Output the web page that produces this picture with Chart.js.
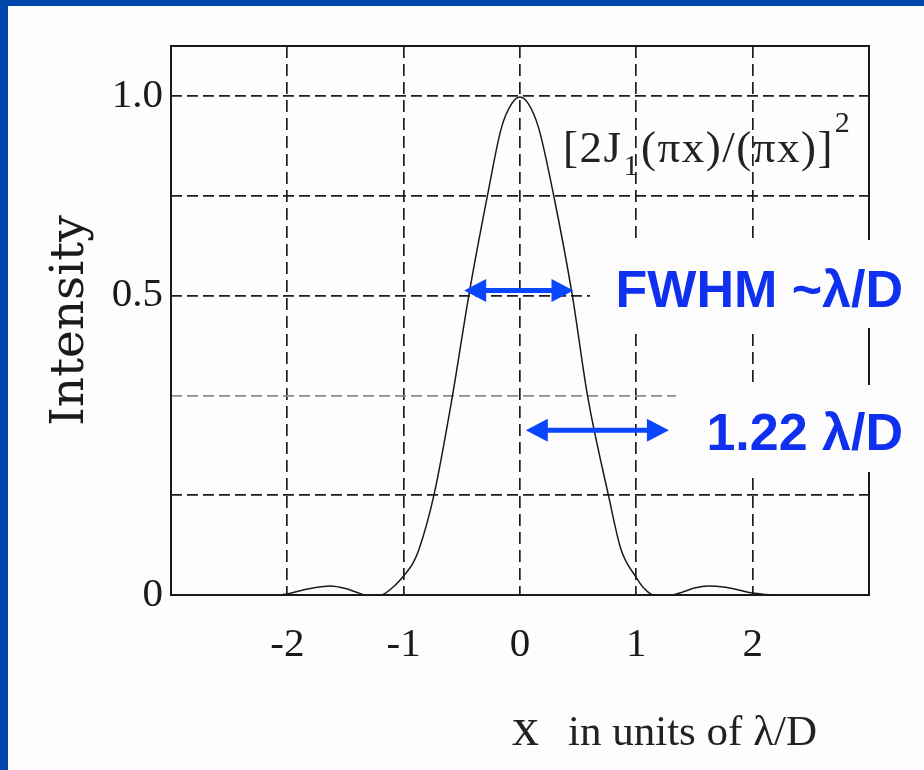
<!DOCTYPE html>
<html>
<head>
<meta charset="utf-8">
<script src="https://cdn.jsdelivr.net/npm/chart.js@4.4.1/dist/chart.umd.min.js"></script>
<style>
html, body { margin: 0; padding: 0; background: #0047ab; }
#box { position: absolute; left: 0; top: 0; width: 924px; height: 770px; }
</style>
</head>
<body>
<div id="box"><canvas id="airy" width="924" height="770"></canvas></div>
<script>
// curve (x in units of lambda/D, intensity)
var xValues = [-3.0, -2.6, -2.25, -2.1, -2.0, -1.9, -1.78, -1.63, -1.5, -1.4, -1.32, -1.2,
               -1.09, -0.98, -0.92, -0.87, -0.74, -0.58, -0.44, -0.28, -0.16, -0.07, 0,
               0.07, 0.16, 0.29, 0.45, 0.58, 0.76, 0.87, 1.0, 1.06, 1.15, 1.3, 1.4, 1.5,
               1.62, 1.75, 1.88, 2.0, 2.2, 2.6, 3.0];
var intensity = [0, 0, 0, 0, 0.002, 0.008, 0.014, 0.018, 0.013, 0.005, 0, 0,
                 0.016, 0.044, 0.064, 0.09, 0.2, 0.4, 0.6, 0.8, 0.936, 0.985, 0.998,
                 0.985, 0.936, 0.8, 0.6, 0.4, 0.2, 0.09, 0.035, 0.015, 0, 0, 0.006, 0.014,
                 0.018, 0.016, 0.01, 0.004, 0, 0, 0];

var xTicks = [-2, -1, 0, 1, 2];
var yTickLabels = ['0', '', '', '0.5', '', '1.0', ''];

// arrows: [from, to] along x, at a given intensity level
var fwhmArrowX = [-0.48, 0.46];
var fwhmArrowY = 0.61;
var radiusArrowX = [0.05, 1.28];
var radiusArrowY = 0.33;

var points = xValues.map(function(x, i) { return {x: x, y: intensity[i]}; });

function arrow(ctx, x1, x2, y) {
    var head = 22, half = 11.5;
    ctx.save();
    ctx.strokeStyle = '#0a46ff';
    ctx.fillStyle = '#0a46ff';
    ctx.lineWidth = 5;
    ctx.beginPath();
    ctx.moveTo(x1 + head - 2, y);
    ctx.lineTo(x2 - head + 2, y);
    ctx.stroke();
    ctx.beginPath();
    ctx.moveTo(x1, y); ctx.lineTo(x1 + head, y - half); ctx.lineTo(x1 + head, y + half);
    ctx.closePath(); ctx.fill();
    ctx.beginPath();
    ctx.moveTo(x2, y); ctx.lineTo(x2 - head, y - half); ctx.lineTo(x2 - head, y + half);
    ctx.closePath(); ctx.fill();
    ctx.restore();
}

// pieces of [2J1(pi x)/(pi x)]^2 : text, font, baseline shift, gap after
function formula(ctx, x, y) {
    var parts = [
        ['[2J', '45px "Liberation Serif"', 0, 1],
        ['1', '30px "Liberation Serif"', 13, 1],
        ['(\u03c0x)/(\u03c0x)]', '45px "Liberation Serif"', 0, 1],
        ['2', '30px "Liberation Serif"', -30, 0]
    ];
    ctx.save();
    ctx.fillStyle = '#222';
    ctx.textBaseline = 'alphabetic';
    ctx.textAlign = 'left';
    ctx.letterSpacing = '1.5px';
    parts.forEach(function(p) {
        ctx.font = p[1];
        ctx.fillText(p[0], x, y + p[2]);
        x += ctx.measureText(p[0]).width + p[3];
    });
    ctx.restore();
}

var extras = {
    id: 'extras',
    beforeDraw: function(chart) {
        var ctx = chart.ctx;
        ctx.save();
        ctx.fillStyle = '#0047ab';
        ctx.fillRect(0, 0, 924, 770);
        ctx.fillStyle = '#fdfdfd';
        ctx.fillRect(8, 6, 916, 764);
        ctx.restore();
    },
    afterDraw: function(chart) {
        var ctx = chart.ctx, a = chart.chartArea;
        var sx = chart.scales.x, sy = chart.scales.y;

        ctx.save();
        ctx.strokeStyle = '#1a1a1a';
        ctx.lineWidth = 2;
        ctx.strokeRect(a.left, a.top, a.right - a.left, a.bottom - a.top);
        ctx.restore();

        formula(ctx, 563, 162);

        // white label boxes
        ctx.save();
        ctx.fillStyle = '#fdfdfd';
        ctx.fillRect(590, 240, 334, 88);
        ctx.fillRect(676, 385, 248, 87);
        ctx.fillStyle = '#1030f0';
        ctx.font = 'bold 52px "Liberation Sans"';
        ctx.textAlign = 'right';
        ctx.textBaseline = 'alphabetic';
        ctx.fillText('FWHM ~\u03bb/D', 903, 307);
        ctx.fillText('1.22 \u03bb/D', 903, 450);
        ctx.restore();

        arrow(ctx, sx.getPixelForValue(fwhmArrowX[0]), sx.getPixelForValue(fwhmArrowX[1]),
              sy.getPixelForValue(fwhmArrowY));
        arrow(ctx, sx.getPixelForValue(radiusArrowX[0]), sx.getPixelForValue(radiusArrowX[1]),
              sy.getPixelForValue(radiusArrowY));

        // x axis title
        ctx.save();
        ctx.fillStyle = '#222';
        ctx.textAlign = 'left';
        ctx.textBaseline = 'alphabetic';
        ctx.font = '54px "Liberation Serif"';
        ctx.fillText('x', 512, 745);
        ctx.font = '43px "Liberation Serif"';
        ctx.fillText('in units of \u03bb/D', 568, 745);
        ctx.restore();
    }
};

new Chart(document.getElementById('airy'), {
    type: 'line',
    data: {
        datasets: [{
            data: points,
            borderColor: '#1a1a1a',
            borderWidth: 1.5,
            pointRadius: 0,
            fill: false,
            cubicInterpolationMode: 'monotone'
        }]
    },
    options: {
        responsive: false,
        animation: false,
        devicePixelRatio: 1,
        layout: { padding: { left: 8, top: 46, right: 55, bottom: 0 } },
        plugins: { legend: { display: false }, tooltip: { enabled: false } },
        scales: {
            x: {
                type: 'linear',
                min: -3, max: 3,
                afterFit: function(s) { s.height = 175; },
                ticks: {
                    stepSize: 1,
                    padding: 26,
                    color: '#1a1a1a',
                    font: { family: 'Liberation Serif', size: 41 },
                    callback: function(v) { return xTicks.indexOf(v) >= 0 ? String(v) : ''; }
                },
                grid: { color: '#1e1e1e', lineWidth: 1.7, drawTicks: false },
                border: { display: false, dash: [12, 6] }
            },
            y: {
                min: 0, max: 1.1,
                afterFit: function(s) { s.width = 163; },
                ticks: {
                    stepSize: 0.2,
                    padding: 8,
                    color: '#1a1a1a',
                    font: { family: 'Liberation Serif', size: 41 },
                    callback: function(v, i) { return yTickLabels[i] || ''; }
                },
                grid: {
                    lineWidth: 1.7,
                    drawTicks: false,
                    color: function(c) {
                        return c.tick && Math.abs(c.tick.value - 0.4) < 1e-6 ? '#8a8a8a' : '#1e1e1e';
                    }
                },
                border: { display: false, dash: [11, 5] },
                title: {
                    display: true,
                    text: 'Intensity',
                    color: '#1a1a1a',
                    font: { family: 'DejaVu Serif', size: 47 },
                    padding: { top: 35, bottom: 0 }
                }
            }
        }
    },
    plugins: [extras]
});
</script>
</body>
</html>
